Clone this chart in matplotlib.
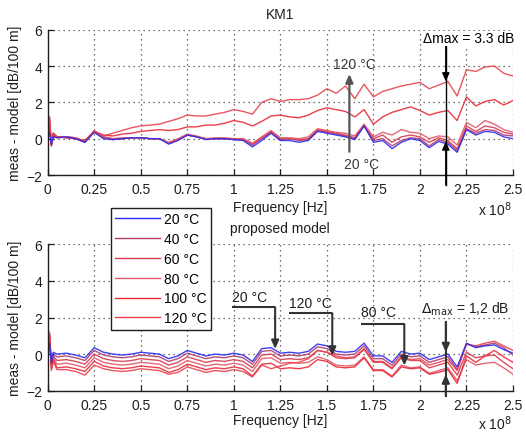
import matplotlib
matplotlib.use("Agg")
import matplotlib.pyplot as plt
from matplotlib.lines import Line2D

plt.rcParams['font.family'] = ['Liberation Sans', 'DejaVu Sans']
plt.rcParams['font.size'] = 10

# Frequency axis in units of 1e8 Hz
freq = [0.0, 0.01, 0.02, 0.03, 0.05, 0.10, 0.15, 0.20, 0.25, 0.30, 0.35, 0.40,
        0.45, 0.50, 0.55, 0.60, 0.65, 0.70, 0.75, 0.80, 0.85, 0.90, 0.95, 1.00,
        1.05, 1.10, 1.15, 1.20, 1.25, 1.30, 1.35, 1.40, 1.45, 1.50, 1.55, 1.60,
        1.65, 1.70, 1.75, 1.80, 1.85, 1.90, 1.95, 2.00, 2.05, 2.10, 2.15, 2.20,
        2.25, 2.30, 2.35, 2.40, 2.45, 2.50]

temps = ['20 °C', '40 °C', '60 °C', '80 °C', '100 °C', '120 °C']
colors = ['#2b2bf0', '#b23a6a', '#d8394f', '#e2586a', '#e82a36', '#e6434f']

# KM1 reference model: meas - model [dB/100 m]
km1_20 = [0.0, 0.3, -0.3, 0.1, 0.05, 0.1, 0.0, -0.2, 0.35, 0.0, -0.05, 0.0, 0.05, 0.05,
          0.0, 0.0, -0.3, -0.1, 0.2, 0.1, -0.05, 0.0, 0.0, -0.05, -0.1, -0.45, -0.1, 0.3,
          -0.1, -0.1, -0.2, -0.1, 0.4, 0.3, 0.2, 0.1, -0.05, 0.7, -0.2, -0.1, -0.55, -0.2,
          0.0, -0.1, -0.5, -0.15, -0.3, -0.75, 0.5, 0.2, 0.4, 0.35, 0.1, 0.0]
km1_40 = [0.0, 0.6, -0.3, 0.2, 0.05, 0.1, 0.0, -0.2, 0.4, 0.05, -0.05, 0.0, 0.05, 0.05,
          0.0, 0.0, -0.25, -0.05, 0.2, 0.1, 0.0, 0.0, 0.0, -0.05, -0.05, -0.35, 0.0, 0.35,
          -0.05, 0.0, -0.1, -0.05, 0.45, 0.35, 0.25, 0.15, 0.0, 0.7, -0.1, 0.0, -0.4, -0.1,
          0.05, 0.0, -0.4, -0.05, -0.2, -0.65, 0.55, 0.3, 0.5, 0.45, 0.2, 0.15]
km1_60 = [0.0, 0.9, -0.4, 0.2, 0.1, 0.1, 0.05, -0.15, 0.4, 0.1, 0.0, 0.0, 0.05, 0.05,
          0.0, 0.0, -0.25, -0.05, 0.2, 0.1, 0.0, 0.0, 0.0, 0.0, 0.0, -0.3, 0.05, 0.4,
          0.0, 0.0, -0.05, 0.0, 0.5, 0.4, 0.3, 0.2, 0.05, 0.75, 0.0, 0.2, -0.2, 0.1,
          0.2, 0.1, -0.2, 0.05, -0.1, -0.55, 0.7, 0.4, 0.7, 0.6, 0.35, 0.25]
km1_80 = [0.0, 1.2, -0.4, 0.3, 0.1, 0.1, 0.05, -0.15, 0.45, 0.1, 0.0, 0.05, 0.05, 0.05,
          0.0, 0.0, -0.2, 0.0, 0.25, 0.15, 0.0, 0.05, 0.05, 0.0, 0.0, -0.25, 0.1, 0.45,
          0.05, 0.05, 0.0, 0.1, 0.55, 0.45, 0.35, 0.3, 0.15, 0.8, 0.1, 0.35, 0.2, 0.5,
          0.35, 0.3, 0.0, 0.15, 0.1, -0.35, 0.9, 0.6, 1.0, 0.8, 0.5, 0.35]
km1_100 = [0.0, 1.0, -0.3, 0.3, 0.1, 0.05, 0.0, -0.1, 0.4, 0.2, 0.15, 0.25, 0.3, 0.4,
           0.45, 0.5, 0.45, 0.5, 0.65, 0.65, 0.75, 0.75, 0.85, 1.0, 0.9, 0.7, 0.95, 1.25,
           1.3, 1.2, 1.15, 1.3, 1.55, 1.7, 1.6, 1.5, 1.2, 1.6, 0.8, 1.2, 1.45, 1.6,
           1.75, 1.55, 1.3, 1.45, 1.55, 1.0, 2.3, 1.8, 2.05, 2.15, 1.85, 2.1]
km1_120 = [0.0, 1.2, -0.4, 0.3, 0.1, 0.05, 0.0, -0.1, 0.4, 0.15, 0.3, 0.45, 0.6, 0.7,
           0.75, 0.8, 0.95, 1.1, 1.3, 1.25, 1.25, 1.35, 1.45, 1.6, 1.5, 1.35, 2.0, 2.2,
           2.05, 2.15, 2.15, 2.2, 2.4, 2.75, 2.5, 2.9, 2.2, 3.0, 2.3, 2.6, 2.75, 2.9,
           3.0, 3.1, 2.75, 2.95, 3.15, 2.35, 3.8, 3.7, 3.95, 4.0, 3.6, 3.45]

# Proposed model: meas - model [dB/100 m]
prop_20 = [0.0, 0.6, -0.5, 0.1, 0.0, 0.05, -0.05, -0.2, 0.35, 0.1, 0.0, -0.05, 0.0, 0.1,
           0.05, 0.0, -0.25, -0.1, 0.2, 0.05, -0.1, 0.0, -0.05, 0.05, -0.05, -0.4, 0.3, 0.35,
           0.05, 0.1, 0.05, 0.15, 0.55, 0.45, 0.15, 0.1, 0.15, 0.6, -0.1, -0.1, -0.45, 0.15,
           0.0, 0.05, -0.3, -0.15, 0.0, -0.7, 0.6, 0.35, 0.45, 0.5, 0.25, 0.05]
prop_40 = [0.0, 0.9, -0.6, 0.0, -0.15, -0.1, -0.2, -0.35, 0.2, -0.05, -0.15, -0.2, -0.15, -0.05,
           -0.1, -0.15, -0.4, -0.25, 0.05, -0.1, -0.25, -0.15, -0.2, -0.1, -0.2, -0.55, 0.15, 0.2,
           -0.1, -0.05, -0.1, 0.0, 0.4, 0.3, 0.0, -0.05, 0.0, 0.45, -0.25, -0.25, -0.6, 0.0,
           -0.15, -0.1, -0.45, -0.3, -0.15, -0.85, 0.55, 0.4, 0.5, 0.6, 0.35, -0.05]
prop_60 = [0.0, 1.1, -0.6, -0.1, -0.35, -0.3, -0.4, -0.55, 0.0, -0.25, -0.35, -0.4, -0.35, -0.25,
           -0.3, -0.35, -0.6, -0.45, -0.15, -0.3, -0.45, -0.35, -0.4, -0.3, -0.4, -0.75, -0.05, 0.0,
           -0.3, -0.25, -0.3, -0.2, 0.2, 0.1, -0.2, -0.25, -0.2, 0.25, -0.45, -0.45, -0.8, -0.2,
           -0.35, -0.35, -0.75, -0.6, -0.45, -1.15, 0.1, -0.2, -0.1, -0.05, -0.45, -0.8]
prop_80 = [0.0, 1.2, -0.7, -0.2, -0.55, -0.5, -0.6, -0.75, -0.2, -0.45, -0.55, -0.6, -0.55, -0.45,
           -0.5, -0.55, -0.8, -0.65, -0.35, -0.5, -0.65, -0.55, -0.6, -0.5, -0.6, -0.95, -0.25, -0.2,
           -0.5, -0.45, -0.5, -0.45, -0.15, -0.3, -0.6, -0.65, -0.6, -0.15, -0.85, -0.85, -1.2, -0.6,
           -0.75, -0.7, -1.05, -0.9, -0.75, -1.45, -0.3, -0.6, -0.5, -0.45, -0.75, -1.1]
prop_100 = [0.0, 1.0, -0.8, -0.3, -0.75, -0.7, -0.8, -0.95, -0.4, -0.65, -0.75, -0.8, -0.75, -0.65,
            -0.7, -0.75, -1.0, -0.85, -0.55, -0.7, -0.85, -0.75, -0.8, -0.7, -0.8, -1.2, -0.55, -0.5,
            -0.8, -0.75, -0.8, -0.7, -0.3, -0.4, -0.7, -0.75, -0.7, -0.2, -0.9, -0.9, -1.25, -0.7,
            -0.8, -0.75, -1.1, -1.0, -0.85, -1.6, -0.1, -0.45, -0.1, 0.2, -0.15, -0.45]
prop_120 = [0.0, 1.1, -0.9, -0.4, -0.85, -0.85, -0.95, -1.15, -0.6, -0.8, -0.9, -0.95, -0.9, -0.8,
            -0.85, -0.9, -1.1, -1.0, -0.7, -0.85, -1.0, -0.9, -0.95, -0.85, -0.95, -1.25, -0.6, -0.8,
            -0.65, -0.5, -0.45, -0.25, 0.2, 0.1, -0.1, -0.2, -0.15, 0.3, -0.4, -0.4, -0.75, -0.15,
            -0.3, -0.25, -0.6, -0.45, -0.3, -0.9, 0.55, 0.45, 0.6, 0.7, 0.45, 0.2]

km1_series = [km1_20, km1_40, km1_60, km1_80, km1_100, km1_120]
prop_series = [prop_20, prop_40, prop_60, prop_80, prop_100, prop_120]

xticks = [0, 0.25, 0.5, 0.75, 1, 1.25, 1.5, 1.75, 2, 2.25, 2.5]
xticklabels = ['0', '0.25', '0.5', '0.75', '1', '1.25', '1.5', '1.75', '2', '2.25', '2.5']
yticks = [-2, 0, 2, 4, 6]

# Maximum deviations at the marked frequency
dmax_km1 = 3.3
dmax_prop = 1.2
f_mark = 2.139

W, H = 526, 435
fig = plt.figure(figsize=(W / 100, H / 100), dpi=100)
fig.patch.set_facecolor('white')

ax_top = fig.add_axes([47.7 / W, 1 - 176 / H, (513 - 47.7) / W, (176 - 30.7) / H])
ax_bot = fig.add_axes([47.7 / W, 1 - 391.7 / H, (513 - 47.7) / W, (391.7 - 245.3) / H])

ink = '#1e1e1e'


def style(ax):
    ax.set_xlim(0, 2.5)
    ax.set_ylim(-2, 6)
    ax.set_xticks(xticks)
    ax.set_xticklabels(xticklabels)
    ax.set_yticks(yticks)
    ax.grid(True, color='#444444', linestyle=(0, (1, 3)), linewidth=0.9)
    ax.set_axisbelow(True)
    for s in ('top', 'right'):
        ax.spines[s].set_visible(False)
    for s in ('left', 'bottom'):
        ax.spines[s].set_color(ink)
        ax.spines[s].set_linewidth(1.0)
    ax.tick_params(direction='in', length=4, width=0.9, colors=ink,
                   labelsize=10, pad=4)
    ax.tick_params(axis='x', pad=5)


for ax, series in ((ax_top, km1_series), (ax_bot, prop_series)):
    style(ax)
    order = [1, 2, 3, 4, 5, 0]
    for i in order:
        ax.plot(freq, series[i], color=colors[i], lw=1.0, alpha=0.9,
                solid_joinstyle='round')

# Titles, axis labels and exponent labels
fig.text(280 / W, 1 - 15 / H, 'KM1', ha='center', va='center', fontsize=10, color=ink)
fig.text(280 / W, 1 - 229 / H, 'proposed model', ha='center', va='center', fontsize=10, color=ink)
for yl in (103.4, 318.5):
    fig.text(15 / W, 1 - yl / H, 'meas - model [dB/100 m]', rotation=90,
             ha='center', va='center', fontsize=10, color=ink)
for yx, ye in ((208, 210), (421, 424)):
    fig.text(280 / W, 1 - yx / H, 'Frequency [Hz]', ha='center', va='center',
             fontsize=10, color=ink)
    fig.text(512 / W, 1 - ye / H, r'x 10$^8$', ha='right', va='center',
             fontsize=10, color=ink)

# Annotations, upper plot
head = '-|>,head_length=0.5,head_width=0.22'
arrow_kw = dict(arrowstyle=head, lw=1.0, color='black', shrinkA=0, shrinkB=0,
                mutation_scale=10)
low_tip = -0.15
ax_top.plot([f_mark, f_mark], [5.1, -2.55], color='black', lw=1.0, clip_on=False)
ax_top.annotate('', xy=(f_mark, low_tip + dmax_km1), xytext=(f_mark, 5.1),
                arrowprops=arrow_kw, annotation_clip=False)
ax_top.annotate('', xy=(f_mark, low_tip), xytext=(f_mark, -2.55),
                arrowprops=arrow_kw, annotation_clip=False)
ax_top.text(2.262, 5.53, '\u0394max = %.1f dB' % dmax_km1, ha='center', va='center',
            fontsize=10, color='black', bbox=dict(fc='white', ec='none', pad=0.5))

gray_kw = dict(arrowstyle=head, lw=1.6, color='#555555', shrinkA=0, shrinkB=0,
               mutation_scale=10)
ax_top.annotate('', xy=(1.621, 3.56), xytext=(1.621, -0.72), arrowprops=gray_kw)
ax_top.text(1.647, 4.11, '120 °C', ha='center', va='center', fontsize=10, color='#3a3a3a')
ax_top.text(1.685, -1.39, '20 °C', ha='center', va='center', fontsize=10, color='#3a3a3a')

# Annotations, lower plot
elbow_kw = dict(arrowstyle=head, lw=1.5, color='#333333', shrinkA=0, shrinkB=0,
                mutation_scale=10)
callouts = [('20 °C', 0.99, 3.12, 2.56, 1.222, 0.28),
            ('120 °C', 1.297, 2.79, 2.23, 1.529, -0.09),
            ('80 °C', 1.684, 2.28, 1.64, 1.916, -0.63)]
for label, xt, yt, yh, xv, ytip in callouts:
    ax_bot.text(xt, yt, label, ha='left', va='center', fontsize=10, color=ink)
    ax_bot.plot([xt, xv], [yh, yh], color='#333333', lw=1.5, solid_capstyle='butt')
    ax_bot.annotate('', xy=(xv, ytip), xytext=(xv, yh), arrowprops=elbow_kw)

low_tip_b = -1.1
ax_bot.plot([f_mark, f_mark], [1.75, -2.27], color='#333333', lw=1.5, clip_on=False)
ax_bot.annotate('', xy=(f_mark, low_tip_b + dmax_prop), xytext=(f_mark, 1.75),
                arrowprops=elbow_kw, annotation_clip=False)
ax_bot.annotate('', xy=(f_mark, low_tip_b), xytext=(f_mark, -2.27),
                arrowprops=elbow_kw, annotation_clip=False)
ax_bot.text(2.006, 2.52, r'$\Delta_{\mathrm{max}}$ = ' + ('%.1f' % dmax_prop).replace('.', ',') + ' dB',
            ha='left', va='center', fontsize=10, color=ink,
            bbox=dict(fc='white', ec='none', pad=0.5))

# Legend
handles = [Line2D([], [], color=c, lw=1.0) for c in colors]
leg = fig.legend(handles, temps, loc='upper left',
                 bbox_to_anchor=(111 / W, 1 - 209 / H), bbox_transform=fig.transFigure,
                 fontsize=10, frameon=True, fancybox=False, framealpha=1,
                 edgecolor=ink, handlelength=3.2, handletextpad=0.3,
                 labelspacing=0.42, borderpad=0.3, borderaxespad=0)
leg.get_frame().set_linewidth(1.0)

fig.savefig('out.png', dpi=100)
